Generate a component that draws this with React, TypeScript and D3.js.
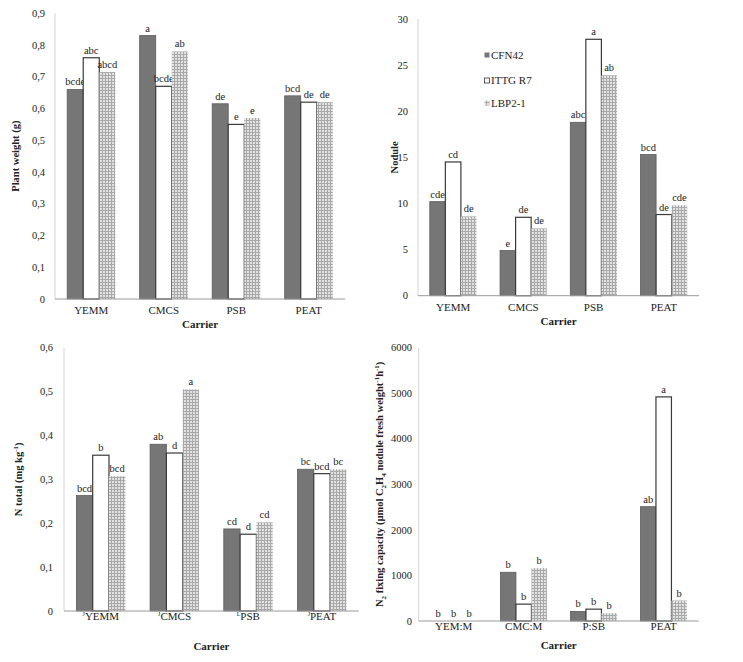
import React from "react";
import * as d3 from "d3";

// ---------- DATA ----------
const series = ["CFN42", "ITTG R7", "LBP2-1"];

const carriersA = ["YEMM", "CMCS", "PSB", "PEAT"];
const carriersC = ["YEMM", "CMCS", "PSB", "PEAT"];
const carriersCMarks = ["J", "J", "L", "J"];
const carriersD = ["YEM:M", "CMC:M", "P:SB", "PEAT"];

// Plant weight (g)
const weightCFN42 = [0.66, 0.83, 0.615, 0.64];
const weightITTG = [0.76, 0.67, 0.55, 0.62];
const weightLBP = [0.715, 0.78, 0.57, 0.62];
const weightLetters = [
  ["bcde", "abc", "abcd"],
  ["a", "bcde", "ab"],
  ["de", "e", "e"],
  ["bcd", "de", "de"],
];

// Nodule
const noduleCFN42 = [10.2, 4.9, 18.8, 15.3];
const noduleITTG = [14.5, 8.5, 27.8, 8.8];
const noduleLBP = [8.6, 7.3, 23.9, 9.8];
const noduleLetters = [
  ["cde", "cd", "de"],
  ["e", "de", "de"],
  ["abc", "a", "ab"],
  ["bcd", "de", "cde"],
];

// N total (mg kg-1)
const ntotCFN42 = [0.263, 0.38, 0.187, 0.323];
const ntotITTG = [0.355, 0.36, 0.175, 0.313];
const ntotLBP = [0.307, 0.505, 0.202, 0.323];
const ntotLetters = [
  ["bcd", "b", "bcd"],
  ["ab", "d", "a"],
  ["cd", "d", "cd"],
  ["bc", "bcd", "bc"],
];

// N2 fixing capacity
const fixCFN42 = [0, 1070, 210, 2510];
const fixITTG = [0, 370, 260, 4920];
const fixLBP = [0, 1160, 170, 450];
const fixLetters = [
  ["b", "b", "b"],
  ["b", "b", "b"],
  ["b", "b", "b"],
  ["ab", "a", "b"],
];

const yTicksA = [0, 0.1, 0.2, 0.3, 0.4, 0.5, 0.6, 0.7, 0.8, 0.9];
const yTicksB = [0, 5, 10, 15, 20, 25, 30];
const yTicksC = [0, 0.1, 0.2, 0.3, 0.4, 0.5, 0.6];
const yTicksD = [0, 1000, 2000, 3000, 4000, 5000, 6000];

const FONT = "'Liberation Serif', 'DejaVu Serif', 'Times New Roman', serif";
const fills = ["#767676", "#ffffff", "url(#checker)"];
const strokes = ["#5e5e5e", "#3a3a3a", "none"];

type PanelProps = {
  cats: string[];
  marks?: string[];
  values: number[][];
  letters: string[][];
  ticks: number[];
  fmt: (v: number) => string;
  yX: number;
  top: number;
  bottom: number;
  right: number;
  tickRight: number;
  catY: number;
  titleY: number;
  yLabelX: number;
  yLabel: React.ReactNode;
};

function Panel(p: PanelProps) {
  const max = p.ticks[p.ticks.length - 1];
  const y = d3.scaleLinear().domain([0, max]).range([p.bottom, p.top]);
  const x0 = d3.scaleBand<string>().domain(p.cats).range([p.yX, p.right]).padding(0);
  const bw = x0.bandwidth();
  const x1 = d3
    .scaleBand<string>()
    .domain(series)
    .range([bw * 0.168, bw * 0.832])
    .padding(0);
  const cx = (p.yX + p.right) / 2;
  const yMid = (p.top + p.bottom) / 2;
  return (
    <g style={{ fontFamily: FONT }} fill="#222">
      <line x1={p.yX} x2={p.yX} y1={p.top} y2={p.bottom} stroke="#d4d4d4" />
      {p.ticks.map((t) => (
        <text key={t} x={p.tickRight} y={y(t)} dy="0.35em" textAnchor="end" fontSize={10.5}>
          {p.fmt(t)}
        </text>
      ))}
      {p.cats.map((c, ci) =>
        series.map((s, si) => {
          const v = p.values[si][ci];
          const bx = (x0(c) as number) + (x1(s) as number);
          const w = x1.bandwidth();
          const top = y(v);
          return (
            <g key={c + s}>
              {v > 0 && (
                <rect
                  x={bx}
                  y={top}
                  width={w}
                  height={p.bottom - top}
                  fill={fills[si]}
                  stroke={strokes[si]}
                  strokeWidth={si === 1 ? 1.2 : 0.8}
                />
              )}
              <text x={bx + w / 2} y={top - 4} textAnchor="middle" fontSize={10.5}>
                {p.letters[ci][si]}
              </text>
            </g>
          );
        })
      )}
      <line x1={p.yX} x2={p.right} y1={p.bottom} y2={p.bottom} stroke="#9a9a9a" />
      {p.cats.map((c, ci) => (
        <text
          key={c}
          x={(x0(c) as number) + bw / 2}
          y={p.catY}
          textAnchor="middle"
          fontSize={11}
        >
          {p.marks && (
            <tspan fontSize={6} dy={-4}>
              {p.marks[ci]}
            </tspan>
          )}
          {p.marks ? <tspan dy={4}>{c}</tspan> : c}
        </text>
      ))}
      <text x={cx} y={p.titleY} textAnchor="middle" fontSize={11} fontWeight="bold">
        Carrier
      </text>
      <text
        transform={`translate(${p.yLabelX},${yMid}) rotate(-90)`}
        textAnchor="middle"
        dy="0.35em"
        fontSize={10.5}
        fontWeight="bold"
      >
        {p.yLabel}
      </text>
    </g>
  );
}

const comma1 = (v: number) => (v === 0 ? "0" : d3.format(".1f")(v).replace(".", ","));
const intf = (v: number) => String(v);

export default function App() {
  return (
    <svg width={743} height={662} style={{ position: "absolute", left: 0, top: 0, background: "#fff", fontFamily: FONT }}>
      <defs>
        <pattern id="checker" width={3} height={3} patternUnits="userSpaceOnUse">
          <rect width={3} height={3} fill="#e2e2e2" />
          <rect x={0} y={0} width={3} height={1} fill="#a9a9a9" />
          <rect x={0} y={0} width={1} height={3} fill="#a9a9a9" />
        </pattern>
      </defs>
      <rect width={743} height={662} fill="#fff" />

      <Panel
        cats={carriersA}
        values={[weightCFN42, weightITTG, weightLBP]}
        letters={weightLetters}
        ticks={yTicksA}
        fmt={comma1}
        yX={55}
        top={13.3}
        bottom={299}
        right={345}
        tickRight={45}
        catY={314}
        titleY={328}
        yLabelX={15}
        yLabel="Plant weight  (g)"
      />

      <Panel
        cats={carriersA}
        values={[noduleCFN42, noduleITTG, noduleLBP]}
        letters={noduleLetters}
        ticks={yTicksB}
        fmt={intf}
        yX={418}
        top={19}
        bottom={295.7}
        right={699}
        tickRight={408}
        catY={310.5}
        titleY={325}
        yLabelX={394}
        yLabel="Nodule"
      />

      <g style={{ fontFamily: FONT }} fontSize={11} fill="#222">
        {series.map((s, i) => {
          const ly = [55, 80.5, 103][i];
          return (
            <g key={s}>
              <rect
                x={484.5}
                y={ly - 2.5}
                width={5}
                height={5}
                fill={fills[i]}
                stroke={i === 1 ? "#333" : "none"}
                strokeWidth={0.8}
              />
              <text x={491} y={ly} dy="0.35em">
                {s}
              </text>
            </g>
          );
        })}
      </g>

      <Panel
        cats={carriersC}
        marks={carriersCMarks}
        values={[ntotCFN42, ntotITTG, ntotLBP]}
        letters={ntotLetters}
        ticks={yTicksC}
        fmt={comma1}
        yX={64}
        top={347.7}
        bottom={611}
        right={358.8}
        tickRight={53}
        catY={619.5}
        titleY={649.5}
        yLabelX={18}
        yLabel={
          <>
            N total  (mg  kg
            <tspan fontSize={7} dy={-4}>-1</tspan>
            <tspan dy={4}>)</tspan>
          </>
        }
      />

      <Panel
        cats={carriersD}
        values={[fixCFN42, fixITTG, fixLBP]}
        letters={fixLetters}
        ticks={yTicksD}
        fmt={intf}
        yX={418.7}
        top={347.7}
        bottom={621}
        right={698.7}
        tickRight={412}
        catY={629.5}
        titleY={648.5}
        yLabelX={379}
        yLabel={
          <>
            N
            <tspan fontSize={7} dy={3}>2</tspan>
            <tspan dy={-3}> fixing capacity (µmol C</tspan>
            <tspan fontSize={7} dy={3}>2</tspan>
            <tspan dy={-3}>H</tspan>
            <tspan fontSize={7} dy={3}>4</tspan>
            <tspan dy={-3}> nodule  fresh weight</tspan>
            <tspan fontSize={7} dy={-4}>-1</tspan>
            <tspan dy={4}>h</tspan>
            <tspan fontSize={7} dy={-4}>-1</tspan>
            <tspan dy={4}>)</tspan>
          </>
        }
      />
    </svg>
  );
}
